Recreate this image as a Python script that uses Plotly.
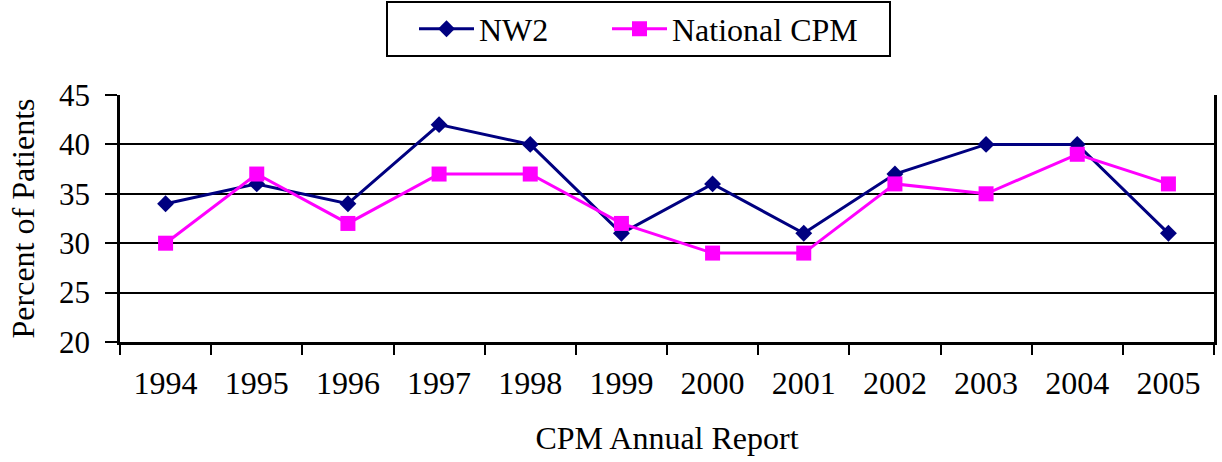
import plotly.graph_objects as go

years = ["1994", "1995", "1996", "1997", "1998", "1999",
         "2000", "2001", "2002", "2003", "2004", "2005"]
nw2 = [34, 36, 34, 42, 40, 31, 36, 31, 37, 40, 40, 31]
national_cpm = [30, 37, 32, 37, 37, 32, 29, 29, 36, 35, 39, 36]

FONT = "Liberation Serif"

# plot area in pixels: x 120..1214, y 95..342
L, R, T, B = 120, 8, 95, 120
PW, PH = 1222 - L - R, 462 - T - B


def px_x(p):
    return (p - L) / PW


def px_y(p):
    return (462 - B - p) / PH


fig = go.Figure()
fig.add_trace(go.Scatter(
    x=years, y=nw2, name="NW2", mode="lines+markers",
    line=dict(color="#000080", width=3),
    marker=dict(symbol="diamond", size=13, color="#000080"),
    legend="legend",
))
fig.add_trace(go.Scatter(
    x=years, y=national_cpm, name="National CPM", mode="lines+markers",
    line=dict(color="#FF00FF", width=3),
    marker=dict(symbol="square", size=15, color="#FF00FF"),
    legend="legend2",
))

# legend frame
fig.add_shape(
    type="rect", xref="paper", yref="paper",
    x0=px_x(387), x1=px_x(890), y0=px_y(56), y1=px_y(2),
    line=dict(color="black", width=2), fillcolor="white", layer="below",
)

legend_common = dict(
    orientation="h", xanchor="left", y=px_y(29), yanchor="middle",
    borderwidth=0, bgcolor="rgba(0,0,0,0)",
    font=dict(family=FONT, size=32, color="black"),
    itemwidth=55,
)

fig.update_layout(
    width=1222, height=462,
    margin=dict(l=L, r=R, t=T, b=B, autoexpand=False),
    paper_bgcolor="white", plot_bgcolor="white",
    font=dict(family=FONT, size=32, color="black"),
    showlegend=True,
    legend=dict(x=px_x(414), **legend_common),
    legend2=dict(x=px_x(607), **legend_common),
    xaxis=dict(
        type="category", tickson="boundaries", range=[-0.5, 11.5],
        showline=True, linecolor="black", linewidth=3,
        ticks="outside", ticklen=10, tickwidth=2, tickcolor="black",
        showgrid=False,
        ticklabelstandoff=11,
        title=dict(text="CPM Annual Report", standoff=27,
                   font=dict(family=FONT, size=32, color="black")),
        tickfont=dict(family=FONT, size=32, color="black"),
    ),
    yaxis=dict(
        range=[20, 45], dtick=5, tick0=20,
        showline=True, linecolor="black", linewidth=2.5, mirror=True,
        ticks="outside", ticklen=12, tickwidth=2, tickcolor="black",
        showgrid=True, gridcolor="black", gridwidth=2,
        zeroline=False,
        ticklabelstandoff=9,
        title=dict(text="Percent of Patients", standoff=15,
                   font=dict(family=FONT, size=32, color="black")),
        tickfont=dict(family=FONT, size=31, color="black"),
    ),
)

fig.write_html("out.html")
